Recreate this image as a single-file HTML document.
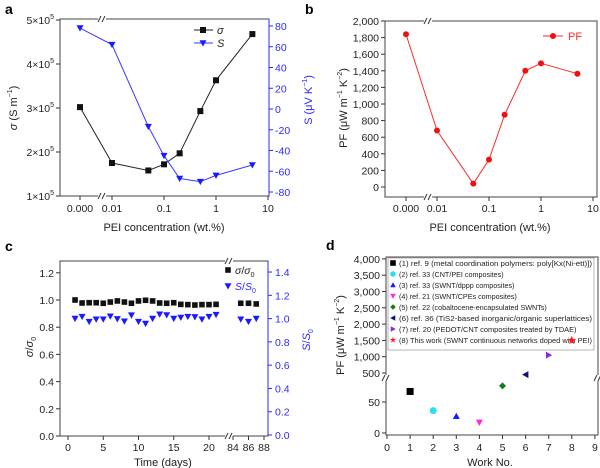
<!DOCTYPE html>
<html><head><meta charset="utf-8"><style>
html,body{margin:0;padding:0;background:#fff;}
svg{display:block;font-family:"Liberation Sans",sans-serif;}
</style></head><body>
<svg id="fig" width="600" height="468" viewBox="0 0 600 468"></svg>
<script>
// Panel a data
const aConc = [0, 0.01, 0.05, 0.1, 0.2, 0.5, 1, 5];
const aSigma = [3.02e5, 1.75e5, 1.58e5, 1.72e5, 1.97e5, 2.93e5, 3.63e5, 4.68e5];
const aSeebeck = [78, 62, -17, -45, -67, -70, -64, -54];
const aLeftTicks = [1e5, 2e5, 3e5, 4e5, 5e5];
const aRightTicks = [-80, -60, -40, -20, 0, 20, 40, 60, 80];
const concTicks = [0, 0.01, 0.1, 1, 10];
const concTickLabels = ["0.000", "0.01", "0.1", "1", "10"];
// Panel b data
const bPF = [1840, 680, 40, 330, 870, 1400, 1490, 1365];
const bTicks = [0, 200, 400, 600, 800, 1000, 1200, 1400, 1600, 1800, 2000];
// Panel c data
const cDays = [1,2,3,4,5,6,7,8,9,10,11,12,13,14,15,16,17,18,19,20,21,85,86,87];
const cSigma = [1.0,0.978,0.98,0.98,0.976,0.985,0.993,0.985,0.976,0.993,0.998,0.993,0.978,0.976,0.98,0.968,0.966,0.963,0.966,0.966,0.968,0.976,0.976,0.971];
const cSeebeck = [1.0,1.017,0.974,0.994,0.994,1.02,0.997,0.977,1.029,0.974,0.957,1.0,1.037,1.031,1.0,1.009,1.017,1.014,0.994,1.017,1.034,0.994,0.974,1.0];
const cLeftTicks = [0, 0.2, 0.4, 0.6, 0.8, 1.0, 1.2];
const cRightTicks = [0, 0.2, 0.4, 0.6, 0.8, 1.0, 1.2, 1.4];
const cXTicks = [0, 5, 10, 15, 20, 84, 86, 88];
// Panel d data
const dWork = [1, 2, 3, 4, 5, 6, 7, 8];
const dPF = [67, 36, 27, 17, 76, 450, 1050, 1500];
const dUpperTicks = [500, 1000, 1500, 2000, 2500, 3000, 3500, 4000];
const dLowerTicks = [0, 50];
const dXTicks = [0,1,2,3,4,5,6,7,8,9];
const dLegend = ["(1) ref. 9 (metal coordination polymers: poly[Kx(Ni-ett)])","(2) ref. 33 (CNT/PEI composites)","(3) ref. 33 (SWNT/dppp composites)","(4) ref. 21 (SWNT/CPEs composites)","(5) ref. 22 (cobaltocene-encapsulated SWNTs)","(6) ref. 36 (TiS2-based inorganic/organic superlattices)","(7) ref. 20 (PEDOT/CNT composites treated by TDAE)","(8) This work (SWNT continuous networks doped with PEI)"];
const dColors = ["#000","#2ee0e6","#1a1aff","#ff2ad4","#1a7a1a","#10107a","#8a2be2","#ff1a1a"];
const dShapes = ["sq","circ","tri","tridown","diamond","tril","trir","star"];

const svg = document.getElementById('fig');
const NS = 'http://www.w3.org/2000/svg';
function mk(tag, attrs, name, parent) {
  const el = document.createElementNS(NS, tag);
  for (const k in attrs) el.setAttribute(k, attrs[k]);
  
  
  (parent || svg).appendChild(el);
  return el;
}
function txt(x, y, s, name, opts) {
  opts = opts || {};
  const t = mk('text', {x:x, y:y, 'font-size':opts.size||11, fill:opts.fill||'#222', 'text-anchor':opts.anchor||'middle'}, name);
  if (opts.rot) t.setAttribute('transform', 'rotate(' + opts.rot + ' ' + x + ' ' + y + ')');
  if (opts.bold) t.setAttribute('font-weight', 'bold');
  if (opts.italic) t.setAttribute('font-style', 'italic');
  t.innerHTML = s;
  return t;
}
function line(x1,y1,x2,y2,name,color,w){return mk('line',{x1:x1,y1:y1,x2:x2,y2:y2,stroke:color||'#333','stroke-width':w||1},name);}
function marker(shape, x, y, color, name, s) {
  s = s || 3.5;
  if (shape === 'sq') return mk('rect',{x:x-s,y:y-s,width:2*s,height:2*s,fill:color},name);
  if (shape === 'circ') return mk('circle',{cx:x,cy:y,r:s,fill:color},name);
  let pts;
  if (shape === 'tri') pts = [[x,y-s],[x+s,y+s*0.8],[x-s,y+s*0.8]];
  if (shape === 'tridown') pts = [[x-s,y-s*0.8],[x+s,y-s*0.8],[x,y+s]];
  if (shape === 'diamond') pts = [[x,y-s],[x+s,y],[x,y+s],[x-s,y]];
  if (shape === 'tril') pts = [[x-s,y],[x+s*0.8,y-s],[x+s*0.8,y+s]];
  if (shape === 'trir') pts = [[x+s,y],[x-s*0.8,y-s],[x-s*0.8,y+s]];
  if (shape === 'star') { pts=[]; for(let i=0;i<10;i++){const r=i%2?s*0.45:s*1.2;const a=-Math.PI/2+i*Math.PI/5;pts.push([x+r*Math.cos(a),y+r*Math.sin(a)]);} }
  return mk('polygon',{points:pts.map(p=>p.join(',')).join(' '),fill:color},name);
}
function fmtK(v){return v.toString().replace(/\B(?=(\d{3})+(?!\d))/g, ',');}
function brk(x,y,name){ mk('rect',{x:x-4,y:y-3,width:8,height:6,fill:'#fff'},name+'-gap'); line(x-4,y+3,x-1,y-3,name); line(x,y+3,x+3,y-3,name); }

// ---------- Panel a ----------
const axA = v => v === 0 ? 80 : 112 + 52*Math.log10(v/0.01);
const ayL = v => 196 - (v-1e5)/1e5*44;
const ayR = v => 192 - (v+80)*166/160;
txt(5,14,'a','panel-a-label',{size:14,bold:true,anchor:'start',fill:'#000'});
mk('rect',{x:60,y:19,width:209,height:177,fill:'none',stroke:'#444'},'panel-a-frame');
line(269,19,269,196,'panel-a-right-axis','#2a2aff');
brk(102,19,'panel-a-top-break'); brk(102,196,'panel-a-bottom-break');
aLeftTicks.forEach(v=>{const y=ayL(v);line(56,y,60,y,'a-left-tick');txt(54,y+4,(v/1e5)+'×10<tspan font-size="7" dy="-5">5</tspan>','a-left-tick-label',{anchor:'end',size:10.5});});
aRightTicks.forEach(v=>{const y=ayR(v);line(269,y,273,y,'a-right-tick','#2a2aff');txt(275,y+4,v,'a-right-tick-label',{anchor:'start',fill:'#2a2aff',size:10.5});});
concTicks.forEach((v,i)=>{const x=axA(v);line(x,196,x,200,'a-x-tick');txt(x,212,concTickLabels[i],'a-x-tick-label',{size:10.5});});
txt(164,231,'PEI concentration (wt.%)','a-x-axis-title',{size:11});
txt(17,108,'<tspan font-style="italic">σ</tspan> (S m<tspan font-size="7" dy="-5">−1</tspan><tspan dy="5">)</tspan>','a-y-axis-title',{rot:-90,size:11});
txt(312,100,'S (μV K<tspan font-size="7" dy="-5">−1</tspan><tspan dy="5">)</tspan>','a-right-axis-title',{rot:-90,size:11,fill:'#2a2aff'});
mk('polyline',{points:aConc.map((c,i)=>axA(c)+','+ayL(aSigma[i])).join(' '),fill:'none',stroke:'#222','stroke-width':1},'sigma-line');
mk('polyline',{points:aConc.map((c,i)=>axA(c)+','+ayR(aSeebeck[i])).join(' '),fill:'none',stroke:'#3a3aff','stroke-width':1},'seebeck-line');
aConc.forEach((c,i)=>marker('sq',axA(c),ayL(aSigma[i]),'#111','sigma-point',3));
aConc.forEach((c,i)=>marker('tridown',axA(c),ayR(aSeebeck[i]),'#1a1aff','seebeck-point',3.5));
line(194,30,213,30,'a-legend-sigma-line','#222'); marker('sq',203,30,'#111','a-legend-sigma-marker',3); txt(217,34,'σ','a-legend-sigma-label',{anchor:'start',italic:true});
line(194,43,213,43,'a-legend-s-line','#3a3aff'); marker('tridown',203,43,'#1a1aff','a-legend-s-marker',3.5); txt(217,47,'S','a-legend-s-label',{anchor:'start',italic:true});

// ---------- Panel b ----------
const bx = v => v === 0 ? 406 : 437 + 52*Math.log10(v/0.01);
const by = v => 187 - v*0.083;
txt(305,14,'b','panel-b-label',{size:14,bold:true,anchor:'start',fill:'#000'});
mk('rect',{x:385,y:21,width:212,height:176,fill:'none',stroke:'#444'},'panel-b-frame');
brk(428,21,'panel-b-top-break'); brk(428,197,'panel-b-bottom-break');
bTicks.forEach(v=>{const y=by(v);line(381,y,385,y,'b-y-tick');txt(379,y+4,fmtK(v),'b-y-tick-label',{anchor:'end',size:10.5});});
concTicks.forEach((v,i)=>{const x=bx(v);line(x,197,x,201,'b-x-tick');txt(x,212,concTickLabels[i],'b-x-tick-label',{size:10.5});});
txt(490,231,'PEI concentration (wt.%)','b-x-axis-title',{size:11});
txt(347,108,'PF (μW m<tspan font-size="7" dy="-5">−1</tspan><tspan dy="5"> K</tspan><tspan font-size="7" dy="-5">−2</tspan><tspan dy="5">)</tspan>','b-y-axis-title',{rot:-90,size:11});
mk('polyline',{points:aConc.map((c,i)=>bx(c)+','+by(bPF[i])).join(' '),fill:'none',stroke:'#ff2a2a','stroke-width':1},'pf-line');
aConc.forEach((c,i)=>marker('circ',bx(c),by(bPF[i]),'#ee1111','pf-point',3));
line(543,36,563,36,'b-legend-line','#ff2a2a'); marker('circ',553,36,'#ee1111','b-legend-marker',3); txt(568,40,'PF','b-legend-label',{anchor:'start',fill:'#ff2a2a'});

// ---------- Panel c ----------
const cx = d => d < 50 ? 68 + d*7.05 : 233 + (d-84)*7.75;
const cyL = v => 436 - v*136;
const cyR = v => 435 - v*116.4;
txt(5,251,'c','panel-c-label',{size:14,bold:true,anchor:'start',fill:'#000'});
mk('rect',{x:60,y:261,width:208,height:175,fill:'none',stroke:'#444'},'panel-c-frame');
line(268,261,268,436,'panel-c-right-axis','#2a2aff');
brk(229,261,'panel-c-top-break'); brk(229,436,'panel-c-bottom-break');
cLeftTicks.forEach(v=>{const y=cyL(v);line(56,y,60,y,'c-left-tick');txt(54,y+4,v.toFixed(1),'c-left-tick-label',{anchor:'end',size:10.5});});
cRightTicks.forEach(v=>{const y=cyR(v);line(268,y,272,y,'c-right-tick','#2a2aff');txt(275,y+4,v.toFixed(1),'c-right-tick-label',{anchor:'start',fill:'#2a2aff',size:10.5});});
cXTicks.forEach(d=>{const x=cx(d);line(x,436,x,440,'c-x-tick');txt(x,451,d,'c-x-tick-label',{size:10.5});});
txt(163,466,'Time (days)','c-x-axis-title',{size:11});
txt(33,347,'<tspan font-style="italic">σ</tspan>/<tspan font-style="italic">σ</tspan><tspan font-size="7" dy="3">0</tspan>','c-y-axis-title',{rot:-90,size:11});
txt(310,340,'<tspan font-style="italic">S</tspan>/<tspan font-style="italic">S</tspan><tspan font-size="7" dy="3">0</tspan>','c-right-axis-title',{rot:-90,size:11,fill:'#2a2aff'});
cDays.forEach((d,i)=>marker('sq',cx(d),cyL(cSigma[i]),'#111','sigma-ratio-point',2.8));
cDays.forEach((d,i)=>marker('tridown',cx(d),cyR(cSeebeck[i]),'#1a1aff','seebeck-ratio-point',3.5));
marker('sq',228,270,'#111','c-legend-sigma-marker',2.8); txt(235,274,'<tspan font-style="italic">σ</tspan>/<tspan font-style="italic">σ</tspan><tspan font-size="7" dy="3">0</tspan>','c-legend-sigma-label',{anchor:'start',size:10.5});
marker('tridown',228,286,'#1a1aff','c-legend-s-marker',3.5); txt(235,290,'<tspan font-style="italic">S</tspan>/<tspan font-style="italic">S</tspan><tspan font-size="7" dy="3">0</tspan>','c-legend-s-label',{anchor:'start',size:10.5,fill:'#2a2aff'});

// ---------- Panel d ----------
const dx = n => 387 + n*23.1;
const dy = v => v >= 450 ? 373 - (v-500)*0.0326 : 433 - v*0.62;
txt(326,250,'d','panel-d-label',{size:14,bold:true,anchor:'start',fill:'#000'});
mk('rect',{x:386,y:257,width:212,height:178,fill:'none',stroke:'#444'},'panel-d-frame');
brk(386,378,'panel-d-left-break'); brk(598,378,'panel-d-right-break');
dUpperTicks.forEach(v=>{const y=dy(v);line(382,y,386,y,'d-y-tick');txt(380,y+4,fmtK(v),'d-y-tick-label',{anchor:'end',size:10.5});});
dLowerTicks.forEach(v=>{const y=dy(v);line(382,y,386,y,'d-y-tick');txt(380,y+4,v,'d-y-tick-label',{anchor:'end',size:10.5});});
dXTicks.forEach(n=>{const x=dx(n);line(x,435,x,439,'d-x-tick');txt(x,451,n,'d-x-tick-label',{size:10.5});});
txt(490,466,'Work No.','d-x-axis-title',{size:11});
txt(344,335,'PF (μW m<tspan font-size="7" dy="-5">−1</tspan><tspan dy="5"> K</tspan><tspan font-size="7" dy="-5">−2</tspan><tspan dy="5">)</tspan>','d-y-axis-title',{rot:-90,size:11});
mk('rect',{x:388,y:258,width:206,height:92,fill:'#fff',stroke:'#888','stroke-width':0.6},'d-legend-box');
dLegend.forEach((s,i)=>{const y=263+i*11;marker(dShapes[i],393,y,dColors[i],'d-legend-marker',2.8);const t=txt(399,y+3,s,'d-legend-label',{anchor:'start',size:7.2});if(s.length>45){t.setAttribute('textLength',Math.min(193,s.length*3.55));t.setAttribute('lengthAdjust','spacingAndGlyphs');}});
dWork.forEach((n,i)=>marker(dShapes[i],dx(n),dy(dPF[i]),dColors[i],'work-point',dShapes[i]==='star'?4:3.5));
</script>
</body></html>
